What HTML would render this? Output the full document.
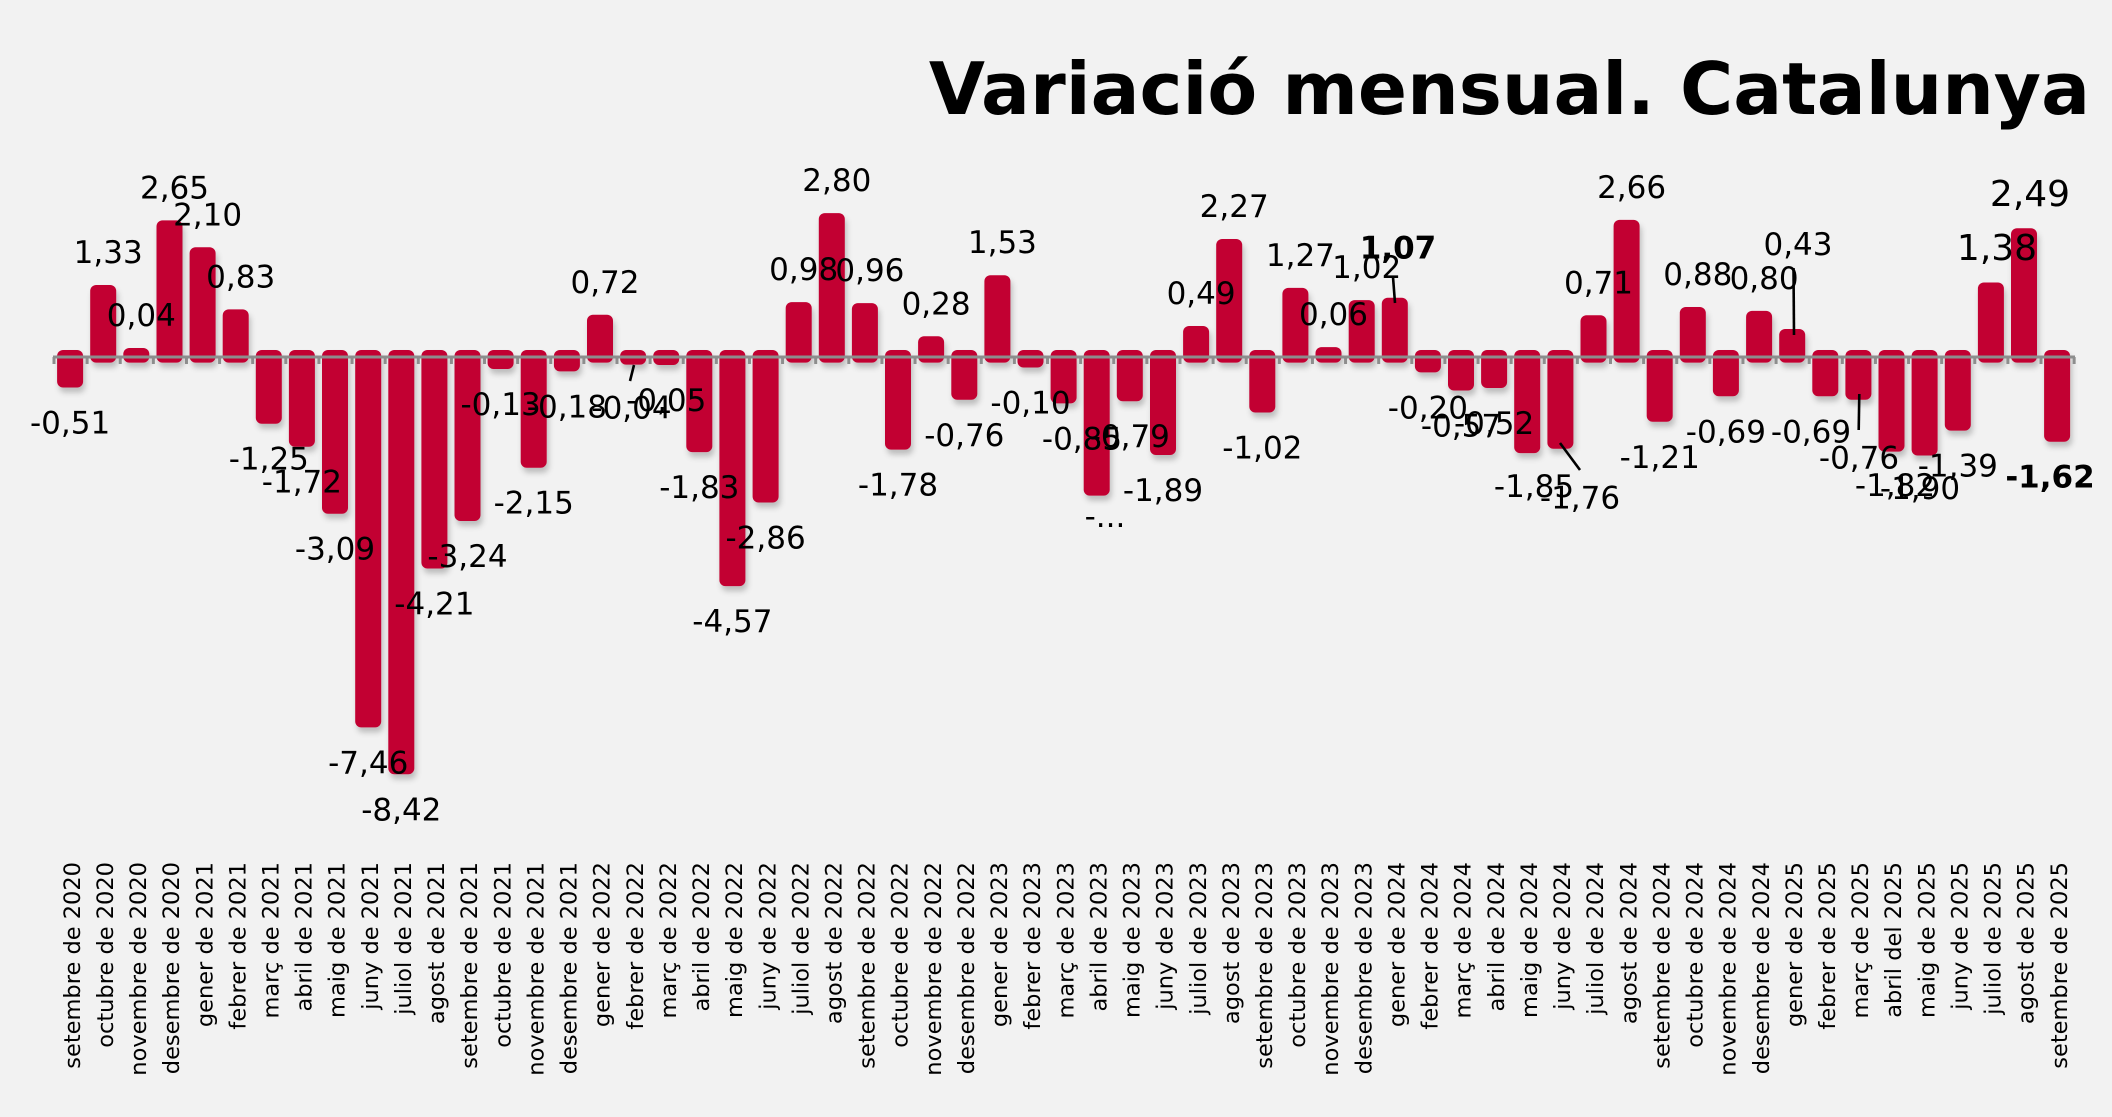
<!DOCTYPE html>
<html>
<head>
<meta charset="utf-8">
<style>
html,body{margin:0;padding:0;background:#f2f2f2;}
svg{display:block;}
</style>
</head>
<body>
<svg width="2112" height="1117" viewBox="0 0 2112 1117" xmlns="http://www.w3.org/2000/svg">
<defs>
<filter id="sh" x="-50%" y="-20%" width="200%" height="150%">
<feDropShadow dx="2" dy="5" stdDeviation="3" flood-color="#000" flood-opacity="0.22"/>
</filter>
</defs>
<rect x="0" y="0" width="2112" height="1117" fill="#f2f2f2"/>

<text x="2090" y="114" text-anchor="end" font-family="'DejaVu Sans', 'Liberation Sans', sans-serif" font-weight="bold" font-size="72.5" fill="#000">Variació mensual. Catalunya</text>

<g fill="#c20030" filter="url(#sh)">
<rect x="57.1" y="350" width="26" height="37.5" rx="6"/>
<rect x="90.2" y="285.0" width="26" height="77.6" rx="6"/>
<rect x="123.3" y="348.0" width="26" height="14.6" rx="6"/>
<rect x="156.5" y="220.4" width="26" height="142.2" rx="6"/>
<rect x="189.6" y="247.3" width="26" height="115.3" rx="6"/>
<rect x="222.7" y="309.4" width="26" height="53.2" rx="6"/>
<rect x="255.8" y="350" width="26" height="73.7" rx="6"/>
<rect x="288.9" y="350" width="26" height="96.7" rx="6"/>
<rect x="322.0" y="350" width="26" height="163.7" rx="6"/>
<rect x="355.2" y="350" width="26" height="377.4" rx="6"/>
<rect x="388.3" y="350" width="26" height="424.3" rx="6"/>
<rect x="421.4" y="350" width="26" height="218.5" rx="6"/>
<rect x="454.5" y="350" width="26" height="171.0" rx="6"/>
<rect x="487.6" y="350" width="26" height="19.0" rx="6"/>
<rect x="520.7" y="350" width="26" height="117.7" rx="6"/>
<rect x="553.9" y="350" width="26" height="21.4" rx="6"/>
<rect x="587.0" y="314.8" width="26" height="47.8" rx="6"/>
<rect x="620.1" y="350" width="26" height="14.6" rx="6"/>
<rect x="653.2" y="350" width="26" height="15.0" rx="6"/>
<rect x="686.3" y="350" width="26" height="102.1" rx="6"/>
<rect x="719.4" y="350" width="26" height="236.1" rx="6"/>
<rect x="752.6" y="350" width="26" height="152.5" rx="6"/>
<rect x="785.7" y="302.1" width="26" height="60.5" rx="6"/>
<rect x="818.8" y="213.1" width="26" height="149.5" rx="6"/>
<rect x="851.9" y="303.1" width="26" height="59.5" rx="6"/>
<rect x="885.0" y="350" width="26" height="99.6" rx="6"/>
<rect x="918.1" y="336.3" width="26" height="26.3" rx="6"/>
<rect x="951.3" y="350" width="26" height="49.8" rx="6"/>
<rect x="984.4" y="275.2" width="26" height="87.4" rx="6"/>
<rect x="1017.5" y="350" width="26" height="17.5" rx="6"/>
<rect x="1050.6" y="350" width="26" height="53.4" rx="6"/>
<rect x="1083.7" y="350" width="26" height="145.6" rx="6"/>
<rect x="1116.8" y="350" width="26" height="51.2" rx="6"/>
<rect x="1150.0" y="350" width="26" height="105.0" rx="6"/>
<rect x="1183.1" y="326.0" width="26" height="36.6" rx="6"/>
<rect x="1216.2" y="239.0" width="26" height="123.6" rx="6"/>
<rect x="1249.3" y="350" width="26" height="62.5" rx="6"/>
<rect x="1282.4" y="287.9" width="26" height="74.7" rx="6"/>
<rect x="1315.5" y="347.1" width="26" height="15.5" rx="6"/>
<rect x="1348.7" y="300.1" width="26" height="62.5" rx="6"/>
<rect x="1381.8" y="297.7" width="26" height="64.9" rx="6"/>
<rect x="1414.9" y="350" width="26" height="22.4" rx="6"/>
<rect x="1448.0" y="350" width="26" height="40.5" rx="6"/>
<rect x="1481.1" y="350" width="26" height="38.0" rx="6"/>
<rect x="1514.2" y="350" width="26" height="103.1" rx="6"/>
<rect x="1547.4" y="350" width="26" height="98.7" rx="6"/>
<rect x="1580.5" y="315.3" width="26" height="47.3" rx="6"/>
<rect x="1613.6" y="219.9" width="26" height="142.7" rx="6"/>
<rect x="1646.7" y="350" width="26" height="71.8" rx="6"/>
<rect x="1679.8" y="307.0" width="26" height="55.6" rx="6"/>
<rect x="1712.9" y="350" width="26" height="46.3" rx="6"/>
<rect x="1746.1" y="310.9" width="26" height="51.7" rx="6"/>
<rect x="1779.2" y="329.0" width="26" height="33.6" rx="6"/>
<rect x="1812.3" y="350" width="26" height="46.3" rx="6"/>
<rect x="1845.4" y="350" width="26" height="49.8" rx="6"/>
<rect x="1878.5" y="350" width="26" height="101.6" rx="6"/>
<rect x="1911.6" y="350" width="26" height="105.5" rx="6"/>
<rect x="1944.8" y="350" width="26" height="80.6" rx="6"/>
<rect x="1977.9" y="282.5" width="26" height="80.1" rx="6"/>
<rect x="2011.0" y="228.2" width="26" height="134.4" rx="6"/>
<rect x="2044.1" y="350" width="26" height="91.8" rx="6"/>
</g>

<!-- axis -->
<line x1="53" y1="357" x2="2075" y2="357" stroke="#8d8d8d" stroke-width="3"/>
<line x1="52.5" y1="360.5" x2="2076" y2="360.5" stroke="#8d8d8d" stroke-width="7" stroke-dasharray="3 30.117"/>

<!-- leader lines -->
<g stroke="#000" stroke-width="2.6" fill="none">
<line x1="634" y1="365" x2="630" y2="381"/>
<line x1="1393" y1="277" x2="1395" y2="303"/>
<line x1="1560" y1="443" x2="1580" y2="470"/>
<line x1="1793.5" y1="268" x2="1794" y2="335"/>
<line x1="1859.3" y1="394" x2="1858.7" y2="430"/>
</g>

<!-- data labels -->
<g font-family="'DejaVu Sans', 'Liberation Sans', sans-serif" font-size="31" text-anchor="middle" fill="#000">
<text x="70.1" y="433.5">-0,51</text>
<text x="108.2" y="263.0">1,33</text>
<text x="141.3" y="326.0">0,04</text>
<text x="174.5" y="198.4">2,65</text>
<text x="207.6" y="225.3">2,10</text>
<text x="240.7" y="287.4">0,83</text>
<text x="268.8" y="469.7">-1,25</text>
<text x="301.9" y="492.7">-1,72</text>
<text x="335.0" y="559.7">-3,09</text>
<text x="368.2" y="773.4">-7,46</text>
<text x="401.3" y="820.3">-8,42</text>
<text x="434.4" y="614.5">-4,21</text>
<text x="467.5" y="567.0">-3,24</text>
<text x="500.6" y="415.0">-0,13</text>
<text x="533.7" y="513.7">-2,15</text>
<text x="566.9" y="417.4">-0,18</text>
<text x="605.0" y="292.8">0,72</text>
<text x="631.5" y="418.3">-0,04</text>
<text x="666.2" y="411.0">-0,05</text>
<text x="699.3" y="498.1">-1,83</text>
<text x="732.4" y="632.1">-4,57</text>
<text x="765.6" y="548.5">-2,86</text>
<text x="803.7" y="280.1">0,98</text>
<text x="836.8" y="191.1">2,80</text>
<text x="869.9" y="281.1">0,96</text>
<text x="898.0" y="495.6">-1,78</text>
<text x="936.1" y="314.3">0,28</text>
<text x="964.3" y="445.8">-0,76</text>
<text x="1002.4" y="253.2">1,53</text>
<text x="1030.5" y="413.5">-0,10</text>
<text x="1082" y="449.4">-0,85</text>
<text x="1105" y="527">-...</text>
<text x="1129.8" y="447.2">-0,79</text>
<text x="1163.0" y="501.0">-1,89</text>
<text x="1201.1" y="304.0">0,49</text>
<text x="1234.2" y="217.0">2,27</text>
<text x="1262.3" y="458.5">-1,02</text>
<text x="1300.4" y="265.9">1,27</text>
<text x="1333.5" y="325.1">0,06</text>
<text x="1366.7" y="278.1">1,02</text>
<text x="1398" y="258.3" font-weight="bold">1,07</text>
<text x="1427.9" y="418.4">-0,20</text>
<text x="1461.0" y="436.5">-0,57</text>
<text x="1494.1" y="434.0">-0,52</text>
<text x="1534" y="497">-1,85</text>
<text x="1580" y="508.3">-1,76</text>
<text x="1598.5" y="293.3">0,71</text>
<text x="1631.6" y="197.9">2,66</text>
<text x="1659.7" y="467.8">-1,21</text>
<text x="1697.8" y="285.0">0,88</text>
<text x="1725.9" y="442.3">-0,69</text>
<text x="1764.1" y="288.9">0,80</text>
<text x="1798" y="255">0,43</text>
<text x="1811" y="442.3">-0,69</text>
<text x="1859" y="468.3">-0,76</text>
<text x="1895" y="496">-1,82</text>
<text x="1920" y="499">-1,90</text>
<text x="1957.8" y="476.6">-1,39</text>
<text x="1997" y="260" font-size="36">1,38</text>
<text x="2030" y="206" font-size="36">2,49</text>
<text x="2050" y="487.3" font-weight="bold">-1,62</text>
</g>

<!-- x axis labels -->
<g font-family="'DejaVu Sans', 'Liberation Sans', sans-serif" font-size="22.5" text-anchor="end" fill="#000">
<text transform="translate(79.8,862) rotate(-90)">setembre de 2020</text>
<text transform="translate(112.9,862) rotate(-90)">octubre de 2020</text>
<text transform="translate(146.0,862) rotate(-90)">novembre de 2020</text>
<text transform="translate(179.2,862) rotate(-90)">desembre de 2020</text>
<text transform="translate(212.3,862) rotate(-90)">gener de 2021</text>
<text transform="translate(245.4,862) rotate(-90)">febrer de 2021</text>
<text transform="translate(278.5,862) rotate(-90)">març de 2021</text>
<text transform="translate(311.6,862) rotate(-90)">abril de 2021</text>
<text transform="translate(344.7,862) rotate(-90)">maig de 2021</text>
<text transform="translate(377.9,862) rotate(-90)">juny de 2021</text>
<text transform="translate(411.0,862) rotate(-90)">juliol de 2021</text>
<text transform="translate(444.1,862) rotate(-90)">agost de 2021</text>
<text transform="translate(477.2,862) rotate(-90)">setembre de 2021</text>
<text transform="translate(510.3,862) rotate(-90)">octubre de 2021</text>
<text transform="translate(543.4,862) rotate(-90)">novembre de 2021</text>
<text transform="translate(576.6,862) rotate(-90)">desembre de 2021</text>
<text transform="translate(609.7,862) rotate(-90)">gener de 2022</text>
<text transform="translate(642.8,862) rotate(-90)">febrer de 2022</text>
<text transform="translate(675.9,862) rotate(-90)">març de 2022</text>
<text transform="translate(709.0,862) rotate(-90)">abril de 2022</text>
<text transform="translate(742.1,862) rotate(-90)">maig de 2022</text>
<text transform="translate(775.3,862) rotate(-90)">juny de 2022</text>
<text transform="translate(808.4,862) rotate(-90)">juliol de 2022</text>
<text transform="translate(841.5,862) rotate(-90)">agost de 2022</text>
<text transform="translate(874.6,862) rotate(-90)">setembre de 2022</text>
<text transform="translate(907.7,862) rotate(-90)">octubre de 2022</text>
<text transform="translate(940.8,862) rotate(-90)">novembre de 2022</text>
<text transform="translate(974.0,862) rotate(-90)">desembre de 2022</text>
<text transform="translate(1007.1,862) rotate(-90)">gener de 2023</text>
<text transform="translate(1040.2,862) rotate(-90)">febrer de 2023</text>
<text transform="translate(1073.3,862) rotate(-90)">març de 2023</text>
<text transform="translate(1106.4,862) rotate(-90)">abril de 2023</text>
<text transform="translate(1139.5,862) rotate(-90)">maig de 2023</text>
<text transform="translate(1172.7,862) rotate(-90)">juny de 2023</text>
<text transform="translate(1205.8,862) rotate(-90)">juliol de 2023</text>
<text transform="translate(1238.9,862) rotate(-90)">agost de 2023</text>
<text transform="translate(1272.0,862) rotate(-90)">setembre de 2023</text>
<text transform="translate(1305.1,862) rotate(-90)">octubre de 2023</text>
<text transform="translate(1338.2,862) rotate(-90)">novembre de 2023</text>
<text transform="translate(1371.4,862) rotate(-90)">desembre de 2023</text>
<text transform="translate(1404.5,862) rotate(-90)">gener de 2024</text>
<text transform="translate(1437.6,862) rotate(-90)">febrer de 2024</text>
<text transform="translate(1470.7,862) rotate(-90)">març de 2024</text>
<text transform="translate(1503.8,862) rotate(-90)">abril de 2024</text>
<text transform="translate(1536.9,862) rotate(-90)">maig de 2024</text>
<text transform="translate(1570.1,862) rotate(-90)">juny de 2024</text>
<text transform="translate(1603.2,862) rotate(-90)">juliol de 2024</text>
<text transform="translate(1636.3,862) rotate(-90)">agost de 2024</text>
<text transform="translate(1669.4,862) rotate(-90)">setembre de 2024</text>
<text transform="translate(1702.5,862) rotate(-90)">octubre de 2024</text>
<text transform="translate(1735.6,862) rotate(-90)">novembre de 2024</text>
<text transform="translate(1768.8,862) rotate(-90)">desembre de 2024</text>
<text transform="translate(1801.9,862) rotate(-90)">gener de 2025</text>
<text transform="translate(1835.0,862) rotate(-90)">febrer de 2025</text>
<text transform="translate(1868.1,862) rotate(-90)">març de 2025</text>
<text transform="translate(1901.2,862) rotate(-90)">abril del 2025</text>
<text transform="translate(1934.3,862) rotate(-90)">maig de 2025</text>
<text transform="translate(1967.5,862) rotate(-90)">juny de 2025</text>
<text transform="translate(2000.6,862) rotate(-90)">juliol de 2025</text>
<text transform="translate(2033.7,862) rotate(-90)">agost de 2025</text>
<text transform="translate(2066.8,862) rotate(-90)">setembre de 2025</text>
</g>
</svg>
</body>
</html>
